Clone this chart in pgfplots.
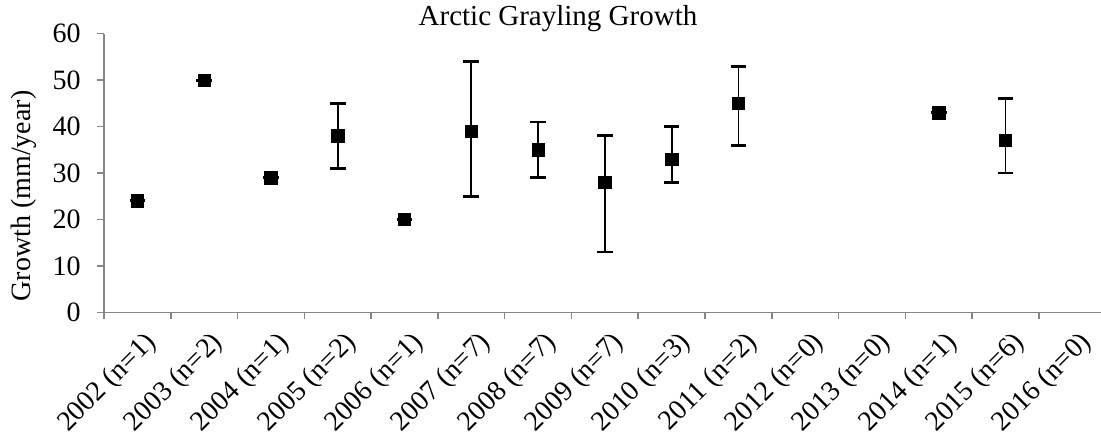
\documentclass[border=0pt]{standalone}
\usepackage{fontspec}
\setmainfont{Liberation Serif}
\usepackage{pgfplots}
\pgfplotsset{compat=1.18}
\usepackage{pgfplotstable}
\definecolor{axgray}{RGB}{134,134,134}

% growth in mm/year, with asymmetric error bars (plus / minus)
\pgfplotstableread{
x  y  ep em
0  24 0  0
1  50 0  0
2  29 0  0
3  38 7  7
4  20 0  0
5  39 15 14
6  35 6  6
7  28 10 15
8  33 7  5
9  45 8  9
12 43 0  0
13 37 9  7
}\growth

\begin{document}
\begin{tikzpicture}
\begin{axis}[
    at={(0,0)}, anchor=south west,
    scale only axis,
    width=500.85pt, height=139.3pt,
    xmin=-0.5, xmax=14.5,
    ymin=0, ymax=60,
    axis x line*=bottom, axis y line*=left,
    axis line style={axgray, line width=0.75pt, -},
    tick align=outside,
    xtick={0,...,14},
    xticklabels={2002 (n=1),2003 (n=2),2004 (n=1),2005 (n=2),2006 (n=1),
        2007 (n=7),2008 (n=7),2009 (n=7),2010 (n=3),2011 (n=2),2012 (n=0),
        2013 (n=0),2014 (n=1),2015 (n=6),2016 (n=0)},
    minor xtick={-0.5,0.5,...,14.5},
    major x tick style={draw=none},
    minor x tick style={axgray, line width=0.75pt},
    minor tick length=3.5pt,
    ytick={0,10,...,60},
    major y tick style={axgray, line width=0.75pt},
    major tick length=3.5pt,
    /pgf/number format/assume math mode=true,
    tick label style={font=\fontsize{14}{16}\selectfont, black},
    xticklabel style={rotate=45, anchor=east, inner sep=0pt, yshift=-12pt, xshift=-1.5pt},
    yticklabel style={inner sep=0pt, xshift=-8pt},
    clip=false,
]
\addplot[only marks, mark=square*, mark size=3.1pt,
    mark options={fill=black, draw=black, line width=0.3pt},
    error bars/.cd, y dir=both, y explicit,
    error bar style={black, line width=0.9pt},
    error mark options={rotate=90, mark size=3.9pt, line width=1.4pt, black}]
    table[x=x, y=y, y error plus=ep, y error minus=em] {\growth};
\end{axis}
\node[anchor=base, font=\fontsize{14.5}{16}\selectfont] at (227pt,143.15pt) {Arctic Grayling Growth};
\node[anchor=base, rotate=90, font=\fontsize{14}{16}\selectfont] at (-36.75pt,58.15pt) {Growth (mm/year)};
\pgfresetboundingbox
\path[use as bounding box] (-52pt,-66.35pt) rectangle (498.5pt,156.15pt);
\end{tikzpicture}
\end{document}
